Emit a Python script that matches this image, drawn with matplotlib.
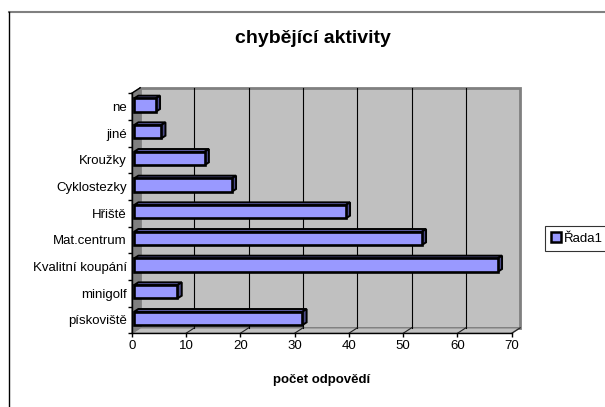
import matplotlib
matplotlib.use("Agg")
import matplotlib.pyplot as plt
from matplotlib.patches import Polygon, Patch
from matplotlib.lines import Line2D
from matplotlib.transforms import IdentityTransform

plt.rcParams['font.family'] = ['Liberation Sans', 'DejaVu Sans']

# ---- data (bottom to top, as Excel orders them) ----
categories = ["pískoviště", "minigolf", "Kvalitní koupání", "Mat.centrum",
              "Hřiště", "Cyklostezky", "Kroužky", "jiné", "ne"]
values = [31, 8, 67, 53, 39, 18, 13, 5, 4]
x_ticks = [0, 10, 20, 30, 40, 50, 60, 70]
series_name = "Řada1"
title = "chybějící aktivity"
xlabel = "počet odpovědí"

W, H = 605, 407
fig = plt.figure(figsize=(W / 100, H / 100), dpi=100)
fig.patch.set_facecolor("white")

# front plane of the plot in pixels
x0, x1 = 131.7, 511.7
ytop, ybot = 93.3, 333.3
ax = fig.add_axes([x0 / W, (H - ybot) / H, (x1 - x0) / W, (ybot - ytop) / H])
ax.set_facecolor("none")
ax.set_xlim(0, 70)
ax.set_ylim(-0.5, len(categories) - 0.5)

DX, DY = 8.5, 5.5  # depth offset (px) of back wall
ymin, ymax = -0.5, len(categories) - 0.5
xmax = 70


def P(x, y, f):
    px, py = ax.transData.transform((x, y))
    return (px + f * DX, py + f * DY)


def poly(verts, fc, ec, lw, z):
    p = Polygon(verts, closed=True, facecolor=fc, edgecolor=ec, linewidth=lw,
                transform=IdentityTransform(), clip_on=False, zorder=z,
                joinstyle="miter")
    ax.add_patch(p)


def line(pts, c, lw, z):
    xs = [p[0] for p in pts]
    ys = [p[1] for p in pts]
    ax.add_line(Line2D(xs, ys, color=c, linewidth=lw,
                       transform=IdentityTransform(), clip_on=False, zorder=z))


# back wall
poly([P(0, ymin, 1), P(xmax, ymin, 1), P(xmax, ymax, 1), P(0, ymax, 1)],
     "#C0C0C0", "#808080", 2.0, 0.1)
# floor
poly([P(0, ymin, 0), P(xmax, ymin, 0), P(xmax, ymin, 1), P(0, ymin, 1)],
     "#C0C0C0", "#808080", 1.0, 0.2)
# side wall
poly([P(0, ymin, 0), P(0, ymin, 1), P(0, ymax, 1), P(0, ymax, 0)],
     "#808080", "#808080", 0.8, 0.3)

# gridlines on back wall and floor
for xv in x_ticks[1:-1]:
    line([P(xv, ymin, 1), P(xv, ymax, 1)], "black", 0.8, 0.5)
for xv in x_ticks[1:]:
    line([P(xv, ymin, 0), P(xv, ymin, 1)], "#202020", 0.8, 0.5)
# top edge of side wall
line([P(0, ymax, 0), P(0, ymax, 1)], "black", 1.0, 0.6)

# bars
h = 0.5
fa, fb = 0.27, 0.78
for i, v in enumerate(values):
    y0, y1 = i - h / 2, i + h / 2
    # top face
    poly([P(0, y1, fa), P(v, y1, fa), P(v, y1, fb), P(0, y1, fb)],
         "#6A6AB8", "black", 1.4, 2)
    # right face
    poly([P(v, y0, fa), P(v, y0, fb), P(v, y1, fb), P(v, y1, fa)],
         "#4C4C88", "black", 1.4, 2)
    # front face
    poly([P(0, y0, fa), P(v, y0, fa), P(v, y1, fa), P(0, y1, fa)],
         "#9999FF", "black", 1.9, 2.1)

# axes, ticks, labels
for s in ["top", "right"]:
    ax.spines[s].set_visible(False)
for s in ["left", "bottom"]:
    ax.spines[s].set_color("black")
    ax.spines[s].set_linewidth(1.0)
    ax.spines[s].set_zorder(3)

ax.set_xticks(x_ticks)
ax.set_xticklabels([str(t) for t in x_ticks])
ax.tick_params(axis="x", direction="out", length=3, width=1.0, pad=1.5,
               labelsize=9.5, colors="black")
ax.set_yticks(range(len(categories)))
ax.set_yticklabels(categories)
ax.tick_params(axis="y", which="major", length=0, pad=3.5, labelsize=9.5)
ax.set_yticks([i - 0.5 for i in range(len(categories) + 1)], minor=True)
ax.tick_params(axis="y", which="minor", direction="out", length=3, width=1.0)

fig.text(312.5 / W, 1 - 38.5 / H, title, ha="center", va="center",
         fontsize=14, fontweight="bold")
fig.text(321.5 / W, 1 - 380 / H, xlabel, ha="center", va="center",
         fontsize=9.5, fontweight="bold")

# legend
handle = Patch(facecolor="#9999FF", edgecolor="black", linewidth=1.8,
               label=series_name)
leg = fig.legend(handles=[handle], loc="center left",
                 bbox_to_anchor=(545 / W, 1 - 238.5 / H), frameon=True,
                 fancybox=False, fontsize=9.5, handlelength=0.75,
                 handleheight=0.75, handletextpad=0.25, borderpad=0.45,
                 borderaxespad=0)
leg.get_frame().set_edgecolor("black")
leg.get_frame().set_linewidth(0.8)

# chart area border (top and left visible)
fig.add_artist(Line2D([8.5 / W, 1.0], [1 - 12 / H, 1 - 12 / H],
                      color="#808080", linewidth=1.5,
                      transform=fig.transFigure))
fig.add_artist(Line2D([8.5 / W, 8.5 / W], [1 - 12 / H, 0],
                      color="black", linewidth=1.0,
                      transform=fig.transFigure))

fig.savefig("out.png", dpi=100)
